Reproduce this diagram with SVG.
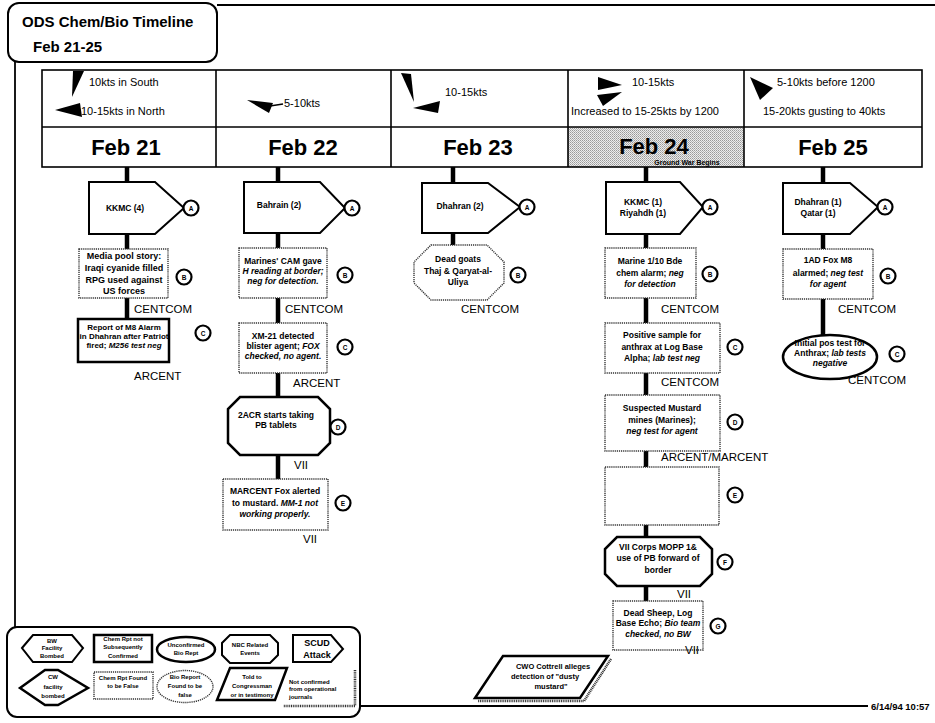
<svg xmlns="http://www.w3.org/2000/svg" width="935" height="723" viewBox="0 0 935 723">
<style>
text{font-family:"Liberation Sans",Arial,sans-serif;fill:#000}
.b{font-weight:bold}
.i{font-style:italic}
.t{font-size:8.5px;font-weight:bold;text-anchor:middle}
.t9{font-size:9px;font-weight:bold;text-anchor:middle}
.lg{font-size:6px;font-weight:bold;text-anchor:middle}
.lab{font-size:11.5px}
.wind{font-size:11px}
.date{font-size:22px;font-weight:bold;text-anchor:middle}
.cl{font-size:6.5px;font-weight:bold;text-anchor:middle}
.frame{fill:none;stroke:#000;stroke-width:1.8}
.grid{fill:none;stroke:#000;stroke-width:1.6}
.pent{fill:#fff;stroke:#000;stroke-width:2}
.thick{fill:#fff;stroke:#000;stroke-width:2.5}
.dot{fill:#fff;stroke:#333;stroke-width:1.4;stroke-dasharray:1.2 0.9}
.circ{fill:#fff;stroke:#000;stroke-width:2.2}
.stub{stroke:#000;stroke-width:4.5;fill:none}
.shadow{fill:none;stroke:#333;stroke-width:2.6;stroke-dasharray:1 0.8}
</style>
<defs>
<pattern id="dither" width="2" height="2" patternUnits="userSpaceOnUse">
<rect width="2" height="2" fill="#ececec"/>
<rect width="1" height="1" fill="#999"/>
<rect x="1" y="1" width="1" height="1" fill="#b4b4b4"/>
</pattern>
</defs>

<g id="frame">
<line class="frame" x1="217" y1="5" x2="935" y2="5"/>
<line class="frame" x1="15" y1="62" x2="15" y2="627"/>
<line class="frame" x1="360" y1="706" x2="868" y2="706" stroke-width="2"/>
<text x="871" y="710" style="font-size:9.5px" class="b">6/14/94 10:57</text>
</g>

<g id="title">
<rect x="8" y="3" width="209" height="59" rx="11" fill="#fff" stroke="#000" stroke-width="2"/>
<text x="22" y="27" class="b" style="font-size:15px">ODS Chem/Bio Timeline</text>
<text x="33" y="52" class="b" style="font-size:15px">Feb 21-25</text>
</g>

<g id="header">
<rect x="568" y="127" width="176" height="40" fill="url(#dither)"/>
<rect class="grid" x="42" y="70" width="880" height="97" stroke-width="2"/>
<line class="grid" x1="42" y1="127" x2="922" y2="127"/>
<line class="grid" x1="216" y1="70" x2="216" y2="167"/>
<line class="grid" x1="391" y1="70" x2="391" y2="167"/>
<line class="grid" x1="568" y1="70" x2="568" y2="167"/>
<line class="grid" x1="744" y1="70" x2="744" y2="167"/>
<polygon points="73,71 84,71 72,97" fill="#000"/>
<polygon points="55,110 80,103 82,117" fill="#000"/>
<polygon points="247,100 273,103 269,113" fill="#000"/>
<line x1="270" y1="106" x2="283" y2="104" stroke="#000" stroke-width="1.5"/>
<polygon points="401,73 411,74 414,102" fill="#000"/>
<polygon points="413,108 440,101 438,113" fill="#000"/>
<polygon points="598,77 622,85 598,90" fill="#000"/>
<polygon points="597,95 622,92 603,106" fill="#000"/>
<polygon points="750,77 773,88 760,100" fill="#000"/>
<text class="wind" x="89" y="86">10kts in South</text>
<text class="wind" x="81" y="115">10-15kts in North</text>
<text class="wind" x="284" y="107">5-10kts</text>
<text class="wind" x="445" y="96">10-15kts</text>
<text class="wind" x="632" y="86">10-15kts</text>
<text class="wind" x="571" y="115">Increased to 15-25kts by 1200</text>
<text class="wind" x="777" y="86">5-10kts before 1200</text>
<text class="wind" x="763" y="115">15-20kts gusting to 40kts</text>
<text class="date" x="126" y="155">Feb 21</text>
<text class="date" x="303" y="155">Feb 22</text>
<text class="date" x="478" y="155">Feb 23</text>
<text class="date" x="654" y="154">Feb 24</text>
<text x="687" y="165" class="b" style="font-size:7px;text-anchor:middle">Ground War Begins</text>
<text class="date" x="833" y="155">Feb 25</text>
</g>

<g id="connectors">
<path class="stub" d="M127 167V182M127 234V249M127 298V319"/>
<path class="stub" d="M278 167V182M278 233V248M278 298V323M278 373V397M278 455V479"/>
<path class="stub" d="M453 167V183M453 233V245"/>
<path class="stub" d="M646 167V182M646 234V248M646 298V323M646 373V395M646 451V467M646 525V537M646 586V601"/>
<path class="stub" d="M823 167V183M823 234V249M823 299V336"/>
</g>

<g id="f21-a">
<polygon class="pent" points="89,182 155,182 184,208 155,234 89,234"/>
<text class="t" x="125" y="211">KKMC (4)</text>
<circle class="circ" cx="191" cy="208" r="7.5"/><text class="cl" x="191" y="210.5">A</text>
</g>
<g id="f21-b">
<rect class="dot" x="79" y="249" width="89" height="49"/>
<text class="t9" x="124" y="259">Media pool story:</text>
<text class="t9" x="124" y="271">Iraqi cyanide filled</text>
<text class="t9" x="124" y="283">RPG used against</text>
<text class="t9" x="124" y="294">US forces</text>
<circle class="circ" cx="184" cy="277" r="7.5"/><text class="cl" x="184" y="279.5">B</text>
<text class="lab" x="134" y="313">CENTCOM</text>
</g>
<g id="f21-c">
<rect class="thick" x="78" y="319" width="91" height="43"/>
<text class="t" style="font-size:8px" x="124" y="330">Report of M8 Alarm</text>
<text class="t" style="font-size:8px" x="124" y="339">in Dhahran after Patriot</text>
<text class="t" style="font-size:8px" x="124" y="348">fired; <tspan class="i">M256 test neg</tspan></text>
<circle class="circ" cx="203" cy="333" r="7.5"/><text class="cl" x="203" y="335.5">C</text>
<text class="lab" x="134" y="380">ARCENT</text>
</g>

<g id="f22-a">
<polygon class="pent" points="244,182 320,182 345,208 320,233 244,233"/>
<text class="t" x="279" y="208">Bahrain (2)</text>
<circle class="circ" cx="352" cy="208" r="7.5"/><text class="cl" x="352" y="210.5">A</text>
</g>
<g id="f22-b">
<rect class="dot" x="239" y="248" width="88" height="50"/>
<text class="t" x="283" y="264">Marines' CAM gave</text>
<text class="t i" x="283" y="274">H reading at border;</text>
<text class="t i" x="283" y="284">neg for detection.</text>
<circle class="circ" cx="345" cy="275" r="7.5"/><text class="cl" x="345" y="277.5">B</text>
<text class="lab" x="285" y="313">CENTCOM</text>
</g>
<g id="f22-c">
<rect class="dot" x="239" y="323" width="88" height="50"/>
<text class="t" x="283" y="339">XM-21 detected</text>
<text class="t" x="283" y="349">blister agent; <tspan class="i">FOX</tspan></text>
<text class="t i" x="283" y="359">checked, no agent.</text>
<circle class="circ" cx="345" cy="347" r="7.5"/><text class="cl" x="345" y="349.5">C</text>
<text class="lab" x="293" y="387">ARCENT</text>
</g>
<g id="f22-d">
<polygon class="thick" points="240,397 318,397 330,409 330,443 318,455 240,455 228,443 228,409"/>
<text class="t" x="276" y="418">2ACR starts taking</text>
<text class="t" x="276" y="428">PB tablets</text>
<circle class="circ" cx="338" cy="427" r="7.5"/><text class="cl" x="338" y="429.5">D</text>
<text class="lab" x="294" y="469">VII</text>
</g>
<g id="f22-e">
<rect class="dot" x="223" y="479" width="105" height="51"/>
<text class="t" x="275" y="494">MARCENT Fox alerted</text>
<text class="t" x="275" y="506">to mustard.  <tspan class="i">MM-1 not</tspan></text>
<text class="t i" x="275" y="517">working properly.</text>
<circle class="circ" cx="343" cy="503" r="7.5"/><text class="cl" x="343" y="505.5">E</text>
<text class="lab" x="303" y="543">VII</text>
</g>

<g id="f23-a">
<polygon class="pent" points="422,183 488,183 520,207 488,233 422,233"/>
<text class="t" x="460" y="209">Dhahran (2)</text>
<circle class="circ" cx="527" cy="207" r="7.5"/><text class="cl" x="527" y="209.5">A</text>
</g>
<g id="f23-b">
<polygon class="dot" points="431,245 487,245 504,262 504,283 487,300 431,300 414,283 414,262"/>
<text class="t" x="458" y="262">Dead goats</text>
<text class="t" x="458" y="274">Thaj &amp; Qaryat-al-</text>
<text class="t" x="458" y="285">Uliya</text>
<circle class="circ" cx="518" cy="275" r="7.5"/><text class="cl" x="518" y="277.5">B</text>
<text class="lab" x="461" y="313">CENTCOM</text>
</g>

<g id="f24-a">
<polygon class="pent" points="606,182 680,182 703,207 680,234 606,234"/>
<text class="t" x="643" y="205">KKMC (1)</text>
<text class="t" x="643" y="216">Riyahdh (1)</text>
<circle class="circ" cx="710" cy="207" r="7.5"/><text class="cl" x="710" y="209.5">A</text>
</g>
<g id="f24-b">
<rect class="dot" x="605" y="248" width="91" height="50"/>
<text class="t" x="650" y="264">Marine 1/10 Bde</text>
<text class="t" x="650" y="276">chem alarm; <tspan class="i">neg</tspan></text>
<text class="t i" x="650" y="287">for detection</text>
<circle class="circ" cx="710" cy="274" r="7.5"/><text class="cl" x="710" y="276.5">B</text>
<text class="lab" x="661" y="313">CENTCOM</text>
</g>
<g id="f24-c">
<rect class="dot" x="605" y="323" width="115" height="50"/>
<text class="t" x="662" y="338">Positive sample for</text>
<text class="t" x="662" y="350">anthrax at Log Base</text>
<text class="t" x="662" y="361">Alpha; <tspan class="i">lab test neg</tspan></text>
<circle class="circ" cx="735" cy="347" r="7.5"/><text class="cl" x="735" y="349.5">C</text>
<text class="lab" x="661" y="386">CENTCOM</text>
</g>
<g id="f24-d">
<rect class="dot" x="605" y="395" width="115" height="56"/>
<text class="t" x="662" y="411">Suspected Mustard</text>
<text class="t" x="662" y="423">mines (Marines);</text>
<text class="t i" x="662" y="434">neg test for agent</text>
<circle class="circ" cx="735" cy="422" r="7.5"/><text class="cl" x="735" y="424.5">D</text>
<text class="lab" x="661" y="461">ARCENT/MARCENT</text>
</g>
<g id="f24-e">
<rect class="dot" x="605" y="467" width="114" height="58"/>
<circle class="circ" cx="735" cy="495" r="7.5"/><text class="cl" x="735" y="497.5">E</text>
</g>
<g id="f24-f">
<polygon class="thick" points="617,537 700,537 712,549 712,574 700,586 617,586 605,574 605,549"/>
<text class="t" x="658" y="550">VII Corps MOPP 1&amp;</text>
<text class="t" x="658" y="561">use of PB forward of</text>
<text class="t" x="658" y="573">border</text>
<circle class="circ" cx="725" cy="562" r="7.5"/><text class="cl" x="725" y="564.5">F</text>
<text class="lab" x="677" y="598">VII</text>
</g>
<g id="f24-g">
<rect class="dot" x="613" y="601" width="90" height="49"/>
<text class="t" x="658" y="616">Dead Sheep, Log</text>
<text class="t" x="658" y="626">Base Echo; <tspan class="i">Bio team</tspan></text>
<text class="t i" x="658" y="637">checked, no BW</text>
<circle class="circ" cx="718" cy="626" r="7.5"/><text class="cl" x="718" y="628.5">G</text>
<text class="lab" x="685" y="654">VII</text>
</g>
<g id="cwo">
<polyline class="shadow" points="611,659 584,701 478,701"/>
<polygon class="thick" points="503,656 608,656 580,698 475,698"/>
<text class="t" style="font-size:7.5px" x="553" y="669">CWO Cottrell alleges</text>
<text class="t" style="font-size:7.5px" x="545" y="679">detection of "dusty</text>
<text class="t" style="font-size:7.5px" x="551" y="689">mustard"</text>
</g>

<g id="f25-a">
<polygon class="pent" points="783,183 850,183 878,207 850,234 783,234"/>
<text class="t" x="818" y="205">Dhahran (1)</text>
<text class="t" x="818" y="216">Qatar (1)</text>
<circle class="circ" cx="885" cy="207" r="7.5"/><text class="cl" x="885" y="209.5">A</text>
</g>
<g id="f25-b">
<rect class="dot" x="783" y="249" width="90" height="50"/>
<text class="t" x="828" y="263">1AD Fox M8</text>
<text class="t" x="828" y="276">alarmed; <tspan class="i">neg test</tspan></text>
<text class="t i" x="828" y="287">for agent</text>
<circle class="circ" cx="888" cy="276" r="7.5"/><text class="cl" x="888" y="278.5">B</text>
<text class="lab" x="838" y="313">CENTCOM</text>
</g>
<g id="f25-c">
<ellipse class="thick" cx="830" cy="357" rx="47" ry="22"/>
<text class="t" x="830" y="346">Initial pos test for</text>
<text class="t" x="830" y="356">Anthrax; <tspan class="i">lab tests</tspan></text>
<text class="t i" x="830" y="366">negative</text>
<circle class="circ" cx="897" cy="354" r="7.5"/><text class="cl" x="897" y="356.5">C</text>
<text class="lab" x="848" y="384">CENTCOM</text>
</g>

<g id="legend">
<rect x="7" y="627" width="353" height="90" rx="10" fill="#fff" stroke="#000" stroke-width="2"/>
<polygon points="22,648 33,635 72,635 83,648 72,662 33,662" fill="#fff" stroke="#000" stroke-width="2"/>
<text class="lg" x="52" y="643">BW</text>
<text class="lg" x="52" y="650">Facility</text>
<text class="lg" x="52" y="658">Bombed</text>
<rect x="94" y="635" width="58" height="27" fill="#fff" stroke="#000" stroke-width="2.5"/>
<text class="lg" x="123" y="641">Chem Rpt not</text>
<text class="lg" x="123" y="649">Subsequently</text>
<text class="lg" x="123" y="658">Confirmed</text>
<ellipse cx="186" cy="649.5" rx="29" ry="12.5" fill="#fff" stroke="#000" stroke-width="2.5"/>
<text class="lg" x="186" y="647">Unconfirmed</text>
<text class="lg" x="186" y="655">Bio Rept</text>
<polygon points="230,635 270,635 278,643 278,655 270,663 230,663 222,655 222,643" fill="#fff" stroke="#000" stroke-width="2"/>
<text class="lg" x="250" y="647">NBC Related</text>
<text class="lg" x="250" y="655">Events</text>
<polygon points="293,635 331,635 343,649 331,662 293,662" fill="#fff" stroke="#000" stroke-width="2"/>
<text class="b" style="font-size:9px;text-anchor:middle" x="317" y="646">SCUD</text>
<text class="b" style="font-size:9px;text-anchor:middle" x="317" y="658">Attack</text>
<polygon points="20,688 45,670 58,670 88,688 58,705 45,705" fill="#fff" stroke="#000" stroke-width="2.5"/>
<text class="lg" x="53" y="679">CW</text>
<text class="lg" x="53" y="689">facility</text>
<text class="lg" x="53" y="698">bombed</text>
<rect class="dot" x="94" y="672" width="59" height="27"/>
<text class="lg" x="123" y="680">Chem Rpt Found</text>
<text class="lg" x="123" y="688">to be False</text>
<ellipse class="dot" cx="185" cy="686.5" rx="28" ry="16"/>
<text class="lg" x="185" y="679">Bio Report</text>
<text class="lg" x="185" y="688">Found to be</text>
<text class="lg" x="185" y="697">false</text>
<polygon points="230,668 287,668 275,700 217,700" fill="#fff" stroke="#000" stroke-width="2.5"/>
<text class="lg" x="252" y="679">Told to</text>
<text class="lg" x="252" y="688">Congressman</text>
<text class="lg" x="252" y="697">or in testimony</text>
<polyline class="shadow" points="355,670 355,706 283,706"/>
<text class="lg" style="text-anchor:start" x="289" y="684">Not confirmed</text>
<text class="lg" style="text-anchor:start" x="289" y="691">from operational</text>
<text class="lg" style="text-anchor:start" x="289" y="699">journals</text>
</g>
</svg>
